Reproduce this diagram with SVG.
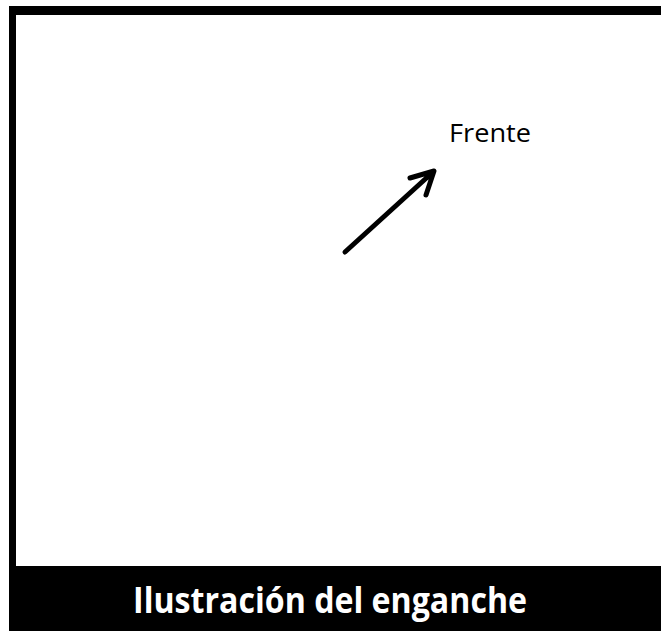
<svg xmlns="http://www.w3.org/2000/svg" width="661" height="631" viewBox="0 0 661 631">
<style>
.lbl{font-family:"Open Sans","Liberation Sans",sans-serif;font-size:26px;fill:#000}
.title{font-family:"Open Sans","Liberation Sans",sans-serif;font-weight:bold;font-size:36px;fill:#fff}
</style>
<rect width="661" height="631" fill="#fff"/>
<g id="frame">
<rect x="9" y="6" width="652" height="9" fill="#000"/>
<rect x="9" y="6" width="7" height="562" fill="#000"/>
<rect x="9" y="566" width="652" height="65" fill="#000"/>
</g>
<g id="label-frente"><text class="lbl" x="449" y="142" textLength="82" lengthAdjust="spacingAndGlyphs">Frente</text></g>
<g id="connectors">
<path d="M345 252 L433 172 M410 178 L434 171 L426 195" fill="none" stroke="#000" stroke-width="5" stroke-linecap="round" stroke-linejoin="round"/>
</g>
<g id="title"><text class="title" x="133" y="613" textLength="394" lengthAdjust="spacingAndGlyphs">Ilustración del enganche</text></g>
</svg>
